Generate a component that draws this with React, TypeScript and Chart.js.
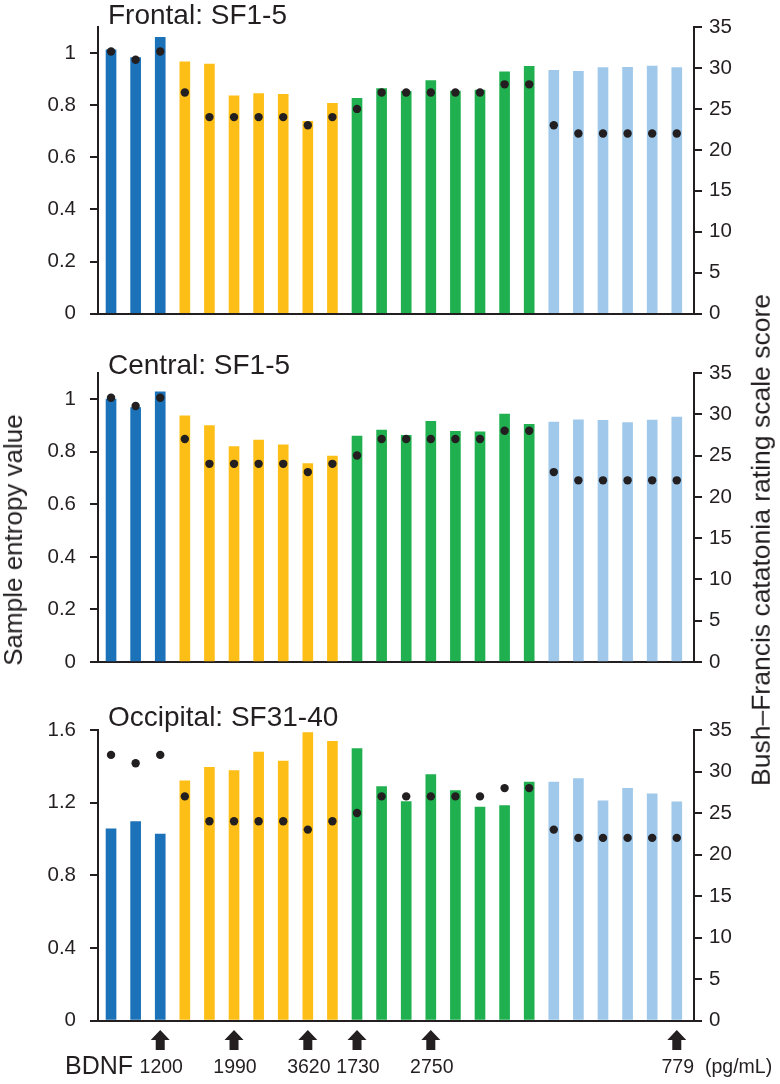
import React, { useEffect, useRef } from 'react';
import { Chart, registerables } from 'chart.js';

Chart.register(...registerables);

// ---------- data ----------
// colour group of each recording session (0 = dark blue, 1 = yellow, 2 = green, 3 = light blue)
const sessionGroup = [0, 0, 0, 1, 1, 1, 1, 1, 1, 1, 2, 2, 2, 2, 2, 2, 2, 2, 3, 3, 3, 3, 3, 3];

const frontalEntropy = [1.012, 0.983, 1.06, 0.966, 0.958, 0.836, 0.845, 0.842, 0.738, 0.807, 0.826, 0.864,
  0.853, 0.894, 0.854, 0.858, 0.928, 0.949, 0.934, 0.93, 0.944, 0.945, 0.95, 0.944];
const centralEntropy = [1.001, 0.968, 1.028, 0.937, 0.9, 0.82, 0.845, 0.827, 0.755, 0.784, 0.86, 0.883,
  0.863, 0.916, 0.878, 0.876, 0.944, 0.905, 0.913, 0.922, 0.92, 0.911, 0.921, 0.932];
const occipitalEntropy = [1.055, 1.095, 1.027, 1.32, 1.394, 1.376, 1.478, 1.429, 1.586, 1.538, 1.497, 1.289,
  1.206, 1.355, 1.267, 1.175, 1.184, 1.313, 1.313, 1.333, 1.21, 1.279, 1.248, 1.204];

const bfcrsScore = [32, 31, 32, 27, 24, 24, 24, 24, 23, 24, 25, 27, 27, 27, 27, 27, 28, 28, 23, 22, 22, 22, 22, 22];

const bdnfSession = [2, 5, 8, 10, 13, 23];
const bdnfLabel = ['1200', '1990', '3620', '1730', '2750', '779'];

const leftTicksFrontal = { max: 1.1, step: 0.2, last: 1.0 };
const leftTicksOccipital = { max: 1.6, step: 0.4, last: 1.6 };
const rightTicks = { max: 35, step: 5 };

// ---------- styles ----------
const INK = '#231f20';
const GROUP_COLORS = ['#1b72b9', '#fdbf17', '#21b04f', '#9fc8ea'];
const FONT = '"Liberation Sans", Arial, Helvetica, sans-serif';

const panels = [
  { title: 'Frontal: SF1-5', values: frontalEntropy, left: leftTicksFrontal, top: 0, height: 340, padTop: 27, padBottom: 24, titleY: 23.5, bdnf: false },
  { title: 'Central: SF1-5', values: centralEntropy, left: leftTicksFrontal, top: 340, height: 350, padTop: 33, padBottom: 28, titleY: 33.5, bdnf: false },
  { title: 'Occipital: SF31-40', values: occipitalEntropy, left: leftTicksOccipital, top: 690, height: 394, padTop: 40, padBottom: 63.5, titleY: 36, bdnf: true },
];

const overlayPlugin = {
  id: 'overlay',
  afterDraw(chart: any, _args: any, opts: any) {
    const ctx = chart.ctx;
    ctx.save();
    ctx.fillStyle = INK;
    ctx.textBaseline = 'alphabetic';
    ctx.textAlign = 'left';
    ctx.font = `28px ${FONT}`;
    ctx.fillText(opts.title, 108, opts.titleY);
    if (opts.bdnf) {
      const xs = chart.scales.x;
      const base = chart.chartArea.bottom;
      bdnfSession.forEach((s: number, k: number) => {
        const px = xs.getPixelForValue(s);
        const tip = base + 9.5;
        const headBase = base + 19.5;
        const bottom = base + 29.5;
        ctx.beginPath();
        ctx.moveTo(px, tip);
        ctx.lineTo(px + 9.5, headBase);
        ctx.lineTo(px + 4.5, headBase);
        ctx.lineTo(px + 4.5, bottom);
        ctx.lineTo(px - 4.5, bottom);
        ctx.lineTo(px - 4.5, headBase);
        ctx.lineTo(px - 9.5, headBase);
        ctx.closePath();
        ctx.fill();
        ctx.font = `19.5px ${FONT}`;
        ctx.textAlign = 'center';
        ctx.fillText(bdnfLabel[k], px + 1, base + 52);
      });
      ctx.textAlign = 'left';
      ctx.font = `25px ${FONT}`;
      ctx.fillText('BDNF', 65, base + 53);
      ctx.font = `19.5px ${FONT}`;
      ctx.fillText('(pg/mL)', 705, base + 52);
    }
    ctx.restore();
  },
};

function Panel({ cfg }: { cfg: any }) {
  const ref = useRef<HTMLCanvasElement | null>(null);
  useEffect(() => {
    if (!ref.current) return;
    const idx = cfg.values.map((_: number, i: number) => i);
    const chart = new Chart(ref.current, {
      type: 'bar',
      data: {
        datasets: [
          {
            type: 'line',
            label: 'BFCRS',
            data: bfcrsScore.map((v, i) => ({ x: idx[i], y: v })),
            yAxisID: 'y1',
            showLine: false,
            pointRadius: 4.2,
            pointBorderWidth: 0,
            pointBackgroundColor: INK,
            pointBorderColor: INK,
            order: 0,
          } as any,
          {
            type: 'bar',
            label: 'Sample entropy',
            data: cfg.values.map((v: number, i: number) => ({ x: idx[i], y: v })),
            yAxisID: 'y',
            backgroundColor: sessionGroup.map((g) => GROUP_COLORS[g]),
            borderWidth: 0,
            barThickness: 10,
            order: 1,
          } as any,
        ],
      },
      options: {
        responsive: false,
        animation: false,
        devicePixelRatio: 1,
        layout: { padding: { top: cfg.padTop, bottom: cfg.padBottom, left: 0, right: 0 } },
        plugins: {
          legend: { display: false },
          tooltip: { enabled: false },
          title: { display: false },
          overlay: { title: cfg.title, titleY: cfg.titleY, bdnf: cfg.bdnf },
        } as any,
        scales: {
          x: {
            type: 'linear',
            offset: false,
            min: -0.53,
            max: 23.7,
            ticks: { display: false },
            grid: { display: false, offset: false },
            border: { display: true, color: INK, width: 2 },
            afterFit: (s: any) => { s.height = 0; },
          },
          y: {
            type: 'linear',
            position: 'left',
            min: 0,
            max: cfg.left.max,
            ticks: {
              stepSize: cfg.left.step,
              color: INK,
              padding: 14,
              font: { family: FONT, size: 20.5 },
              callback: (v: any) => String(Number(Number(v).toFixed(1))),
            },
            afterBuildTicks: (s: any) => {
              s.ticks = s.ticks.filter((t: any) => t.value <= cfg.left.last + 1e-6);
            },
            grid: { drawOnChartArea: false, drawTicks: true, tickLength: 8, color: INK, lineWidth: 2 },
            border: { display: true, color: INK, width: 2 },
            afterFit: (s: any) => { s.width = 98; },
          },
          y1: {
            type: 'linear',
            position: 'right',
            min: 0,
            max: rightTicks.max,
            ticks: {
              stepSize: rightTicks.step,
              color: INK,
              padding: 7,
              font: { family: FONT, size: 20.5 },
            },
            grid: { drawOnChartArea: false, drawTicks: true, tickLength: 8, color: INK, lineWidth: 2 },
            border: { display: true, color: INK, width: 2 },
            afterFit: (s: any) => { s.width = 86; },
          },
        },
      } as any,
      plugins: [overlayPlugin as any],
    });
    return () => chart.destroy();
  }, [cfg]);
  return (
    <canvas
      ref={ref}
      width={780}
      height={cfg.height}
      style={{ position: 'absolute', left: 0, top: cfg.top, width: 780, height: cfg.height }}
    />
  );
}

const rotated = (cx: number, cy: number, size: number): React.CSSProperties => ({
  position: 'absolute',
  left: cx,
  top: cy,
  transform: 'translate(-50%, -50%) rotate(-90deg)',
  whiteSpace: 'nowrap',
  fontFamily: FONT,
  fontSize: size,
  lineHeight: 1,
  color: INK,
});

export default function App() {
  return (
    <div style={{ position: 'absolute', left: 0, top: 0, width: 780, height: 1084, background: '#fff', overflow: 'hidden' }}>
      {panels.map((p) => (
        <Panel key={p.title} cfg={p} />
      ))}
      <div style={rotated(13, 540, 26)}>Sample entropy value</div>
      <div style={rotated(761, 540, 26.5)}>Bush–Francis catatonia rating scale score</div>
    </div>
  );
}
